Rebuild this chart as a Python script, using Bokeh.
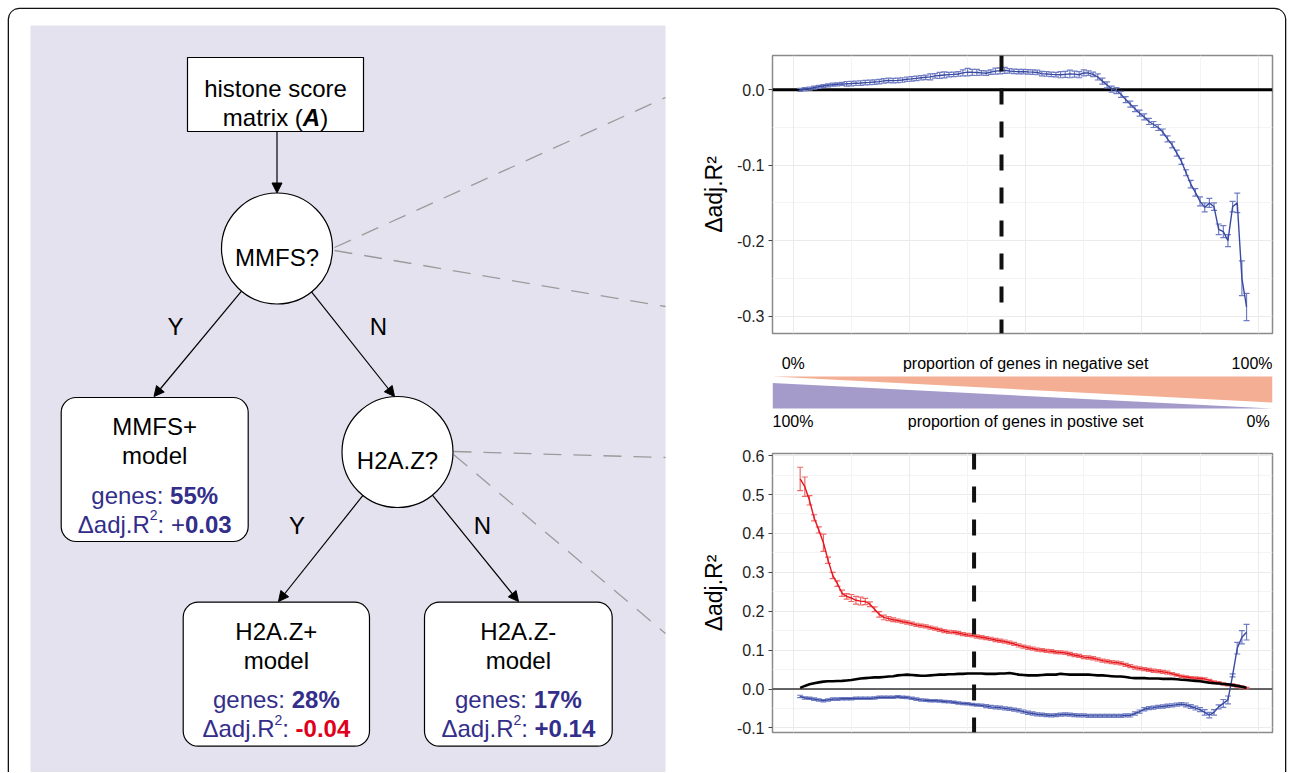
import numpy as np
from bokeh.plotting import figure
from bokeh.models import (ColumnDataSource, Range1d, FixedTicker, Span, Whisker, TeeHead,
                          NormalHead, Arrow, Grid, NumeralTickFormatter)
from bokeh.layouts import row, column
from bokeh.embed import file_html
from bokeh.resources import INLINE
from bokeh.core.properties import value

FONT = "Liberation Sans"

# ------------------------------------------------------------------ data
# proportion of genes moved into the negative set (fraction, 1% steps)
proportion = list(np.round(np.arange(0.015, 0.9751, 0.01), 3))

top_blue = [0.000, 0.001, 0.0015, 0.003, 0.004, 0.005, 0.006, 0.0068, 0.0073, 0.0078,
            0.008, 0.0083, 0.0087, 0.009, 0.0095, 0.0098, 0.0103, 0.0108, 0.0118, 0.0124,
            0.0122, 0.0125, 0.013, 0.014, 0.0145, 0.0152, 0.016, 0.0166, 0.0172, 0.0185,
            0.019, 0.0197, 0.0202, 0.0205, 0.021, 0.0225, 0.0235, 0.0232, 0.023, 0.0225,
            0.022, 0.0235, 0.0248, 0.0252, 0.0257, 0.025, 0.0244, 0.024, 0.0242, 0.0238,
            0.0235, 0.023, 0.0215, 0.021, 0.0205, 0.0202, 0.020, 0.0205, 0.021, 0.0208,
            0.020, 0.0225, 0.0222, 0.0205, 0.017, 0.0115, 0.0065, 0.001, -0.001, -0.006,
            -0.013, -0.019, -0.025, -0.031, -0.036, -0.042, -0.046, -0.050, -0.056, -0.065,
            -0.073, -0.084, -0.095, -0.110, -0.125, -0.136, -0.148, -0.156, -0.150, -0.155,
            -0.185, -0.188, -0.200, -0.155, -0.150, -0.250, -0.288]
top_err = [0.002, 0.002, 0.002, 0.002, 0.002, 0.002, 0.002, 0.002, 0.002, 0.002,
           0.003, 0.003, 0.003, 0.003, 0.003, 0.003, 0.003, 0.003, 0.003, 0.003,
           0.003, 0.003, 0.003, 0.003, 0.003, 0.003, 0.003, 0.003, 0.004, 0.003,
           0.004, 0.004, 0.003, 0.003, 0.003, 0.004, 0.005, 0.004, 0.004, 0.003,
           0.003, 0.003, 0.004, 0.004, 0.004, 0.003, 0.003, 0.003, 0.003, 0.003,
           0.003, 0.003, 0.003, 0.003, 0.003, 0.003, 0.004, 0.004, 0.005, 0.004,
           0.004, 0.004, 0.003, 0.003, 0.004, 0.004, 0.004, 0.004, 0.004, 0.004,
           0.004, 0.004, 0.004, 0.004, 0.004, 0.004, 0.004, 0.004, 0.004, 0.004,
           0.004, 0.004, 0.004, 0.004, 0.005, 0.005, 0.006, 0.006, 0.006, 0.005,
           0.007, 0.008, 0.008, 0.007, 0.013, 0.023, 0.018]

bot_red = [0.540, 0.520, 0.485, 0.440, 0.409, 0.376, 0.331, 0.292, 0.271, 0.246,
           0.238, 0.234, 0.228, 0.226, 0.225, 0.218, 0.205, 0.192, 0.184, 0.181,
           0.178, 0.176, 0.173, 0.171, 0.168, 0.165, 0.163, 0.161, 0.158, 0.155,
           0.152, 0.149, 0.147, 0.146, 0.144, 0.141, 0.139, 0.138, 0.135, 0.133,
           0.131, 0.129, 0.126, 0.124, 0.122, 0.119, 0.116, 0.112, 0.109, 0.106,
           0.104, 0.101, 0.100, 0.098, 0.097, 0.095, 0.094, 0.093, 0.090, 0.087,
           0.085, 0.082, 0.081, 0.079, 0.076, 0.073, 0.071, 0.069, 0.068, 0.066,
           0.062, 0.059, 0.055, 0.053, 0.051, 0.049, 0.047, 0.046, 0.044, 0.042,
           0.039, 0.036, 0.033, 0.031, 0.029, 0.028, 0.027, 0.026, 0.022, 0.018,
           0.016, 0.013, 0.011, 0.010, 0.008, 0.005, 0.002]
bot_red_err = [0.030, 0.025, 0.012, 0.008, 0.008, 0.022, 0.008, 0.008, 0.007, 0.008,
               0.007, 0.009, 0.010, 0.010, 0.008, 0.006, 0.006, 0.007, 0.006, 0.005,
               0.005, 0.004, 0.004, 0.004, 0.004, 0.004, 0.004, 0.004, 0.004, 0.004,
               0.004, 0.004, 0.004, 0.004, 0.004, 0.004, 0.004, 0.004, 0.004, 0.004,
               0.004, 0.004, 0.004, 0.004, 0.004, 0.004, 0.004, 0.004, 0.004, 0.004,
               0.004, 0.004, 0.004, 0.004, 0.004, 0.004, 0.004, 0.004, 0.004, 0.004,
               0.004, 0.004, 0.004, 0.004, 0.004, 0.004, 0.004, 0.004, 0.004, 0.004,
               0.004, 0.004, 0.004, 0.004, 0.004, 0.004, 0.004, 0.004, 0.004, 0.004,
               0.003, 0.003, 0.003, 0.003, 0.003, 0.003, 0.003, 0.003, 0.003, 0.003,
               0.003, 0.003, 0.003, 0.003, 0.003, 0.003, 0.002]

bot_black = [0.003, 0.008, 0.012, 0.015, 0.017, 0.019, 0.020, 0.020, 0.0205, 0.021,
             0.022, 0.023, 0.025, 0.027, 0.028, 0.029, 0.030, 0.030, 0.031, 0.032,
             0.033, 0.035, 0.036, 0.037, 0.036, 0.035, 0.034, 0.034, 0.035, 0.036,
             0.037, 0.037, 0.038, 0.038, 0.039, 0.039, 0.040, 0.040, 0.040, 0.040,
             0.039, 0.039, 0.039, 0.040, 0.040, 0.041, 0.039, 0.037, 0.036, 0.035,
             0.035, 0.035, 0.036, 0.037, 0.037, 0.037, 0.039, 0.038, 0.037, 0.037,
             0.037, 0.037, 0.037, 0.036, 0.035, 0.035, 0.034, 0.033, 0.032, 0.032,
             0.031, 0.029, 0.028, 0.028, 0.028, 0.027, 0.027, 0.027, 0.026, 0.026,
             0.026, 0.025, 0.024, 0.023, 0.022, 0.021, 0.020, 0.018, 0.016, 0.015,
             0.014, 0.013, 0.012, 0.010, 0.008, 0.006, 0.003]

bot_blue = [-0.019, -0.023, -0.024, -0.026, -0.028, -0.030, -0.028, -0.026, -0.026, -0.025,
            -0.025, -0.025, -0.024, -0.024, -0.024, -0.024, -0.023, -0.021, -0.021, -0.021,
            -0.021, -0.020, -0.021, -0.022, -0.024, -0.026, -0.028, -0.029, -0.030, -0.030,
            -0.031, -0.032, -0.033, -0.034, -0.036, -0.037, -0.038, -0.040, -0.041, -0.042,
            -0.044, -0.046, -0.047, -0.048, -0.050, -0.051, -0.053, -0.055, -0.058, -0.061,
            -0.063, -0.065, -0.066, -0.067, -0.068, -0.067, -0.066, -0.065, -0.066, -0.067,
            -0.068, -0.068, -0.069, -0.069, -0.069, -0.069, -0.069, -0.069, -0.069, -0.069,
            -0.068, -0.068, -0.063, -0.058, -0.052, -0.049, -0.048, -0.046, -0.045, -0.043,
            -0.042, -0.040, -0.039, -0.041, -0.045, -0.049, -0.053, -0.060, -0.067, -0.060,
            -0.046, -0.037, -0.028, 0.035, 0.105, 0.133, 0.146]
bot_blue_err = [0.003, 0.003, 0.003, 0.003, 0.003, 0.003, 0.003, 0.003, 0.003, 0.003,
                0.003, 0.003, 0.003, 0.003, 0.003, 0.003, 0.003, 0.003, 0.003, 0.003,
                0.003, 0.003, 0.003, 0.003, 0.003, 0.003, 0.003, 0.003, 0.003, 0.003,
                0.003, 0.003, 0.003, 0.003, 0.003, 0.003, 0.003, 0.003, 0.003, 0.003,
                0.004, 0.004, 0.004, 0.004, 0.004, 0.004, 0.004, 0.004, 0.004, 0.004,
                0.004, 0.004, 0.004, 0.004, 0.004, 0.004, 0.004, 0.004, 0.004, 0.004,
                0.004, 0.004, 0.004, 0.004, 0.004, 0.004, 0.004, 0.004, 0.004, 0.004,
                0.004, 0.004, 0.004, 0.004, 0.004, 0.004, 0.004, 0.004, 0.004, 0.004,
                0.004, 0.004, 0.004, 0.005, 0.005, 0.005, 0.005, 0.007, 0.007, 0.007,
                0.005, 0.010, 0.010, 0.004, 0.015, 0.017, 0.020]

cutoff_top = 0.448
cutoff_bottom = 0.389

top_ticks = [-0.3, -0.2, -0.1, 0.0]
bottom_ticks = [-0.1, 0.0, 0.1, 0.2, 0.3, 0.4, 0.5, 0.6]
y_label = "\u0394adj.R\u00b2"

# ------------------------------------------------------------------ styles
BLUE = "#3a4aa2"
BLUE_ERR = "#6f7dc2"
RED = "#e8141c"
RED_ERR = "#ee6a6a"
NAVY = "#332e8a"
REDTXT = "#e0001b"
LAVENDER = "#e4e2ef"
GRID_MAJ = "#ebebeb"
GRID_MIN = "#f4f4f4"

# Helvetica / Liberation Sans advance widths (per 1000 em)
REG = {' ': 278, '%': 889, '+': 584, '-': 333, '.': 278, ':': 278, '(': 333, ')': 333,
       '?': 556, 'A': 667, 'F': 611, 'H': 722, 'M': 833, 'R': 722, 'S': 667, 'Z': 611,
       'a': 556, 'c': 500, 'd': 556, 'e': 556, 'g': 556, 'h': 556, 'i': 222, 'j': 222,
       'l': 222, 'm': 833, 'n': 556, 'o': 556, 'r': 333, 's': 500, 't': 278, 'x': 500,
       '\u0394': 668}
BOLD = {'%': 889, '+': 584, '-': 333, '.': 278, 'A': 722}
for d in "0123456789":
    REG[d] = 556
    BOLD[d] = 556


def tw(s, size, bold=False):
    tab = BOLD if bold else REG
    return sum(tab.get(c, 556) for c in s) * size / 1000.0


def plain(fig, x, y, s, size=24, color="black", align="center", baseline="alphabetic", style="normal"):
    fig.text(x=[x], y=[y], text=[s], text_font=value(FONT), text_font_size=f"{size}px",
             text_font_style=style, text_color=color, text_align=align, text_baseline=baseline)


def rich(fig, cx, base, runs):
    total = sum(tw(t, sz, "bold" in st) for t, sz, st, col, dy in runs)
    x = cx - total / 2.0
    for t, sz, st, col, dy in runs:
        fig.text(x=[x], y=[base + dy], text=[t], text_font=value(FONT),
                 text_font_size=f"{sz}px", text_font_style=st, text_color=col,
                 text_align="left", text_baseline="alphabetic")
        x += tw(t, sz, "bold" in st)


# ------------------------------------------------------------------ left: decision tree
# the whole layout is placed at page offset (9, 9); this figure uses page pixels
H_TOTAL = 763
diag = figure(width=681, height=H_TOTAL, x_range=Range1d(9, 690), y_range=Range1d(9 + H_TOTAL, 9),
              x_axis_type=None, y_axis_type=None, toolbar_location=None,
              output_backend="svg", min_border=0)
diag.outline_line_color = None
diag.background_fill_color = "white"
diag.border_fill_color = "white"

diag.quad(left=[30], right=[665], top=[25], bottom=[790], fill_color=LAVENDER, line_color=None)

# dashed guide lines from decision nodes to the plots
diag.segment(x0=[334, 334, 453, 453], y0=[247, 250, 451, 454],
             x1=[665, 665, 665, 665], y1=[97, 306, 457, 633],
             line_color="#9b9b9b", line_width=1.3, line_dash="18 12")

# root box
diag.quad(left=[187], right=[363], top=[57], bottom=[131], fill_color="white",
          line_color="black", line_width=1.2)
plain(diag, 275, 88.3, "histone score")
rich(diag, 275, 117.3, [("matrix (", 24, "normal", "black", 0),
                        ("A", 24, "bold italic", "black", 0),
                        (")", 24, "normal", "black", 0)])

# decision circles
circ_x = [276.5, 397.0]
circ_y = [248.0, 451.5]
circ_r = 55.5
diag.circle(x=circ_x, y=circ_y, radius=circ_r, fill_color="white", line_color="black", line_width=1.2)
plain(diag, 276.5, 256.7, "MMFS?")
plain(diag, 397.0, 460.2, "H2A.Z?")

# model boxes
boxes = [(60.7, 247.7, 397.0, 541.0), (182.7, 369.0, 601.7, 745.7), (424.0, 611.7, 601.7, 745.7)]
diag.quad(left=[b[0] for b in boxes], right=[b[1] for b in boxes],
          top=[b[2] for b in boxes], bottom=[b[3] for b in boxes],
          fill_color="white", line_color="black", line_width=1.2, border_radius=15)

model_names = ["MMFS+", "H2A.Z+", "H2A.Z-"]
gene_share = ["55%", "28%", "17%"]
delta_runs = [
    [(": +", 24, "normal", NAVY, 0), ("0.03", 24, "bold", NAVY, 0)],
    [(": ", 24, "normal", NAVY, 0), ("-0.04", 24, "bold", REDTXT, 0)],
    [(": ", 24, "normal", NAVY, 0), ("+0.14", 24, "bold", NAVY, 0)],
]
for (l, r, t, b), name, share, druns in zip(boxes, model_names, gene_share, delta_runs):
    cx = (l + r) / 2.0
    plain(diag, cx, t + 29, name)
    plain(diag, cx, t + 58, "model")
    rich(diag, cx, t + 97.5, [("genes: ", 24, "normal", NAVY, 0), (share, 24, "bold", NAVY, 0)])
    rich(diag, cx, t + 126.5, [("\u0394adj.R", 24, "normal", NAVY, 0),
                               ("2", 14, "normal", NAVY, -9)] + druns)

# arrows
def arrow_from_circle(ci, tx, ty):
    cx, cy = circ_x[ci], circ_y[ci]
    dx, dy = tx - cx, ty - cy
    d = (dx * dx + dy * dy) ** 0.5
    return cx + circ_r * dx / d, cy + circ_r * dy / d

arrows = [(276.5, 131.0, 276.5, 192.5)]
for ci, tx, ty in [(0, 153.5, 396.0), (0, 394.0, 396.0), (1, 278.0, 601.0), (1, 518.0, 601.0)]:
    sx, sy = arrow_from_circle(ci, tx, ty)
    arrows.append((sx, sy, tx, ty))
for sx, sy, ex, ey in arrows:
    diag.add_layout(Arrow(end=NormalHead(size=10, fill_color="black", line_color="black"),
                          x_start=sx, y_start=sy, x_end=ex, y_end=ey,
                          line_color="black", line_width=1.2))

for x, y, s in [(175, 326, "Y"), (378, 326, "N"), (296.5, 525, "Y"), (482, 525, "N")]:
    plain(diag, x, y, s, baseline="middle")

# ------------------------------------------------------------------ right: plots
XR = (-0.0445, 1.0308)


def make_plot(height, yr, ticks, minor, border_top, border_bottom):
    p = figure(width=595, height=height, x_range=Range1d(*XR), y_range=Range1d(*yr),
               x_axis_type=None, toolbar_location=None, output_backend="svg",
               min_border_left=82, min_border_right=13,
               min_border_top=border_top, min_border_bottom=border_bottom)
    p.outline_line_color = "#8a8a8a"
    p.outline_line_width = 1.5
    p.background_fill_color = "white"
    p.border_fill_color = "white"
    p.yaxis.ticker = FixedTicker(ticks=ticks, minor_ticks=minor)
    p.yaxis.formatter = NumeralTickFormatter(format="0.0")
    p.yaxis.axis_line_color = None
    p.yaxis.major_tick_line_color = "#444444"
    p.yaxis.major_tick_out = 4
    p.yaxis.major_tick_in = 0
    p.yaxis.minor_tick_line_color = None
    p.yaxis.major_label_text_font = FONT
    p.yaxis.major_label_text_font_size = "16px"
    p.yaxis.major_label_text_color = "#1f1f1f"
    p.yaxis.major_label_standoff = 4
    p.yaxis.axis_label = y_label
    p.yaxis.axis_label_text_font = FONT
    p.yaxis.axis_label_text_font_size = "23px"
    p.yaxis.axis_label_text_font_style = "normal"
    p.yaxis.axis_label_text_color = "black"
    p.yaxis.axis_label_standoff = 7
    p.ygrid.grid_line_color = GRID_MAJ
    p.ygrid.minor_grid_line_color = GRID_MIN
    p.add_layout(Grid(dimension=0,
                      ticker=FixedTicker(ticks=[0, 0.25, 0.5, 0.75, 1.0],
                                         minor_ticks=[0.125, 0.375, 0.625, 0.875]),
                      grid_line_color=GRID_MAJ, minor_grid_line_color=GRID_MIN))
    return p


def errorbars(p, x, y, err, line_color, err_color):
    y = np.array(y)
    e = np.array(err)
    src = ColumnDataSource(dict(x=x, y=y, upper=y + e, lower=y - e))
    p.add_layout(Whisker(source=src, base="x", upper="upper", lower="lower",
                         line_color=err_color, line_width=1.2,
                         upper_head=TeeHead(size=6, line_color=err_color, line_width=1.2),
                         lower_head=TeeHead(size=6, line_color=err_color, line_width=1.2)))
    p.line(x="x", y="y", source=src, line_color=line_color, line_width=1.4)


# top plot (page y 9..341, frame 55..333)
top = make_plot(332, (-0.3232, 0.0455), top_ticks, [-0.25, -0.15, -0.05], 46, 8)
top.add_layout(Span(location=0, dimension="width", line_color="black", line_width=3,
                    level="underlay"))
errorbars(top, proportion, top_blue, top_err, BLUE, BLUE_ERR)
top.add_layout(Span(location=cutoff_top, dimension="height", line_color="#111111",
                    line_width=4, line_dash="16 17"))

# gradient strip (page y 341..441); its frame is aligned with the plots' frames
strip = figure(width=595, height=100, x_range=Range1d(*XR), y_range=Range1d(441, 341),
               x_axis_type=None, y_axis_type=None, toolbar_location=None,
               output_backend="svg", min_border_left=82, min_border_right=13,
               min_border_top=0, min_border_bottom=0)
strip.outline_line_color = None
strip.border_fill_color = "white"
strip.background_fill_color = "white"
strip.patch(x=[XR[0], XR[1], XR[1]], y=[376, 376, 402],
            fill_color="#f4ae94", line_color=None)
strip.patch(x=[XR[0], XR[1], XR[0]], y=[382.5, 408, 408],
            fill_color="#a49bcb", line_color=None)
plain(strip, 0.0, 363, "0%", size=16, baseline="middle")
plain(strip, 0.5, 363, "proportion of genes in negative set", size=16, baseline="middle")
plain(strip, XR[1], 363, "100%", size=16, align="right", baseline="middle")
plain(strip, XR[0], 421, "100%", size=16, align="left", baseline="middle")
plain(strip, 0.5, 421, "proportion of genes in postive set", size=16, baseline="middle")
plain(strip, 1.0, 421, "0%", size=16, baseline="middle")

# bottom plot (page y 441..772, frame 453..732)
bot = make_plot(H_TOTAL - 432, (-0.1118, 0.6054), bottom_ticks,
                [-0.05, 0.05, 0.15, 0.25, 0.35, 0.45, 0.55], 12, H_TOTAL - 432 - 291)
bot.add_layout(Span(location=0, dimension="width", line_color="#333333", line_width=1.6,
                    level="underlay"))
errorbars(bot, proportion, bot_red, bot_red_err, RED, RED_ERR)
errorbars(bot, proportion, bot_blue, bot_blue_err, BLUE, BLUE_ERR)
bot.line(x=proportion, y=bot_black, line_color="black", line_width=2.6)
bot.add_layout(Span(location=cutoff_bottom, dimension="height", line_color="#111111",
                    line_width=4, line_dash="16 17"))

layout = row(diag, column(top, strip, bot), margin=(9, 0, 0, 9),
             styles={"box-shadow": "-1.3px 0 0 0 #111111, 1.3px 0 0 0 #111111, 0 -1.3px 0 0 #111111",
                     "border-radius": "10px 10px 0 0", "overflow": "hidden"})

open("out.html", "w").write(file_html(layout, INLINE))
